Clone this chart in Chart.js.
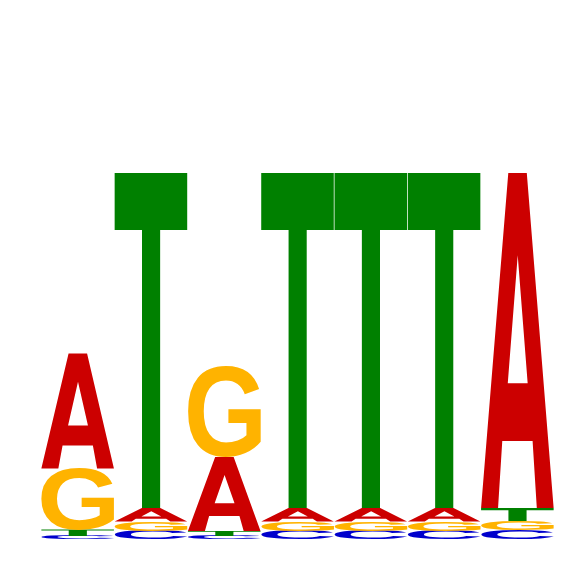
<!DOCTYPE html>
<html>
<head>
<meta charset="utf-8">
<script src="https://cdn.jsdelivr.net/npm/chart.js@4/dist/chart.umd.min.js"></script>
<style>
  html, body { margin: 0; padding: 0; background: #ffffff; }
  #wrap { width: 566px; height: 566px; position: relative; }
</style>
</head>
<body>
<div id="wrap"><canvas id="c"></canvas></div>
<script>
// Sequence logo data (information content in bits per letter per position)
const positions = ['1', '2', '3', '4', '5', '6', '7'];
const letters = ['A', 'C', 'G', 'T'];
const bitsA = [0.575, 0.068, 0.370, 0.068, 0.068, 0.068, 1.675];
const bitsC = [0.018, 0.044, 0.018, 0.044, 0.044, 0.044, 0.045];
const bitsG = [0.305, 0.046, 0.4525, 0.046, 0.046, 0.046, 0.048];
const bitsT = [0.032, 1.674, 0.025, 1.674, 1.674, 1.674, 0.064];
const letterColors = { A: '#CC0000', C: '#0000CC', G: '#FFB300', T: '#008000' };

const byLetter = { A: bitsA, C: bitsC, G: bitsG, T: bitsT };

// Build stacks: at each position letters sorted ascending (smallest at bottom)
const ranked = positions.map((p, i) =>
  letters.map(l => ({ l, v: byLetter[l][i] })).sort((a, b) => a.v - b.v)
);
const datasets = [0, 1, 2, 3].map(r => ({
  label: 'rank' + r,
  data: ranked.map(col => col[r].v),
  letters: ranked.map(col => col[r].l),
  backgroundColor: 'rgba(0,0,0,0)',
  borderWidth: 0,
  barPercentage: 0.99,
  categoryPercentage: 1.0
}));

// Glyph outlines in a unit box (x: 0..1 left->right, y: 0..1 top->bottom)
const glyphShapes = {
  A: [
    [[0.375, 0], [0.63, 0], [1, 1], [0.768, 1], [0.71, 0.80], [0.292, 0.80], [0.234, 1], [0, 1]],
    [[0.505, 0.245], [0.642, 0.627], [0.368, 0.627]]
  ],
  T: [
    [[0, 0], [1, 0], [1, 0.17], [0.627, 0.17], [0.627, 1], [0.377, 1], [0.377, 0.17], [0, 0.17]]
  ]
};

const FONT = 'bold 400px "Liberation Sans", Arial, sans-serif';
const boundsCache = {};
function inkBounds(letter) {
  if (boundsCache[letter]) return boundsCache[letter];
  const cv = document.createElement('canvas');
  cv.width = 600; cv.height = 600;
  const c = cv.getContext('2d');
  c.font = FONT;
  c.textAlign = 'left';
  c.textBaseline = 'alphabetic';
  c.fillStyle = '#000';
  const ox = 100, oy = 500;
  c.fillText(letter, ox, oy);
  const d = c.getImageData(0, 0, 600, 600).data;
  let minX = 600, minY = 600, maxX = -1, maxY = -1;
  for (let yy = 0; yy < 600; yy++) {
    for (let xx = 0; xx < 600; xx++) {
      if (d[(yy * 600 + xx) * 4 + 3] > 100) {
        if (xx < minX) minX = xx;
        if (xx > maxX) maxX = xx;
        if (yy < minY) minY = yy;
        if (yy > maxY) maxY = yy;
      }
    }
  }
  const b = { left: minX - ox, top: minY - oy, w: maxX - minX + 1, h: maxY - minY + 1 };
  boundsCache[letter] = b;
  return b;
}

function drawGlyph(ctx, letter, x0, y0, w, h) {
  ctx.fillStyle = letterColors[letter];
  const shape = glyphShapes[letter];
  if (shape) {
    ctx.beginPath();
    shape.forEach(poly => {
      poly.forEach((p, k) => {
        const px = x0 + p[0] * w, py = y0 + p[1] * h;
        if (k === 0) ctx.moveTo(px, py); else ctx.lineTo(px, py);
      });
      ctx.closePath();
    });
    ctx.fill('evenodd');
    return;
  }
  const b = inkBounds(letter);
  ctx.save();
  ctx.font = FONT;
  ctx.textAlign = 'left';
  ctx.textBaseline = 'alphabetic';
  ctx.translate(x0, y0);
  ctx.scale(w / b.w, h / b.h);
  ctx.fillText(letter, -b.left, -b.top);
  ctx.restore();
}

const glyphPlugin = {
  id: 'glyphs',
  afterDatasetsDraw(chart) {
    const ctx = chart.ctx;
    ctx.save();
    chart.data.datasets.forEach((ds, di) => {
      const meta = chart.getDatasetMeta(di);
      meta.data.forEach((el, i) => {
        const { x, y, base, width } = el.getProps(['x', 'y', 'base', 'width'], true);
        const h = base - y;
        if (!(h > 0)) return;
        drawGlyph(ctx, ds.letters[i], x - width / 2, y, width, h);
      });
    });
    ctx.restore();
  }
};

new Chart(document.getElementById('c'), {
  type: 'bar',
  data: { labels: positions, datasets },
  options: {
    responsive: true,
    maintainAspectRatio: false,
    animation: false,
    layout: { padding: { left: 41, right: 12, top: 139.5, bottom: 26.5 } },
    plugins: { legend: { display: false }, tooltip: { enabled: false } },
    scales: {
      x: { stacked: true, display: false },
      y: { stacked: true, display: false, min: 0, max: 2 }
    }
  },
  plugins: [glyphPlugin]
});
</script>
</body>
</html>
